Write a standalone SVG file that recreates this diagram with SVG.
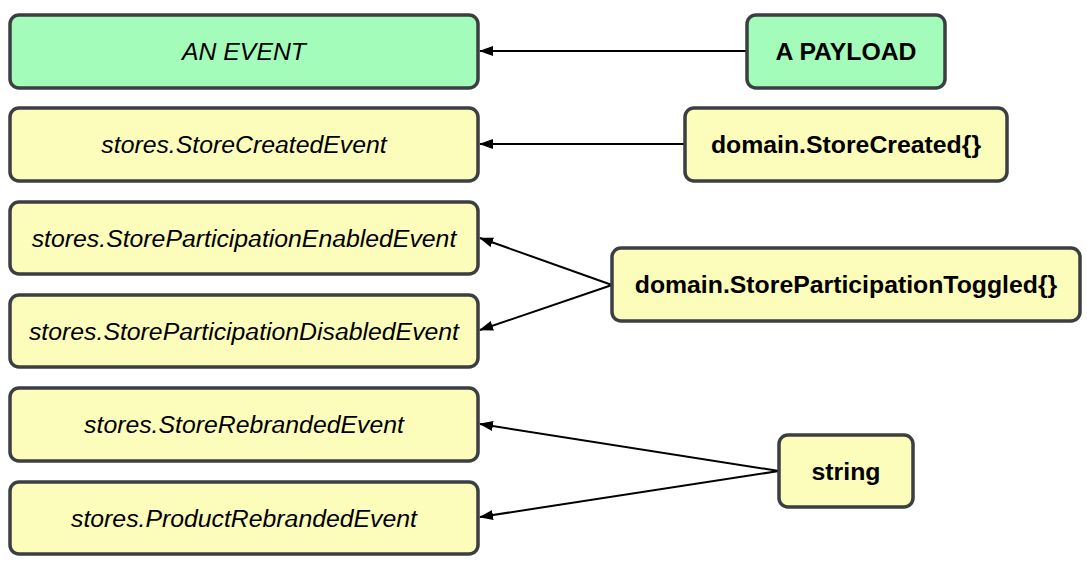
<svg xmlns="http://www.w3.org/2000/svg" width="1087" height="569" viewBox="0 0 1087 569">
<defs>
<style>
.box{stroke:#3b3e43;stroke-width:3.5}
.g{fill:#a3fcba}
.y{fill:#fcfcbb}
.ev{font-family:"Liberation Sans",Arial,sans-serif;font-size:24.8px;font-style:italic;fill:#000;text-anchor:middle}
.pl{font-family:"Liberation Sans",Arial,sans-serif;font-size:24.8px;font-weight:bold;fill:#000;text-anchor:middle}
.c{stroke:#000;stroke-width:2;fill:none;marker-end:url(#ah)}
</style>
<marker id="ah" viewBox="0 0 14 10" refX="13" refY="5" markerWidth="14" markerHeight="10" markerUnits="userSpaceOnUse" orient="auto">
<path d="M0,0 L14,5 L0,10 z" fill="#000"/>
</marker>
</defs>
<rect width="1087" height="569" fill="#fff"/>
<g id="connectors">
<line class="c" x1="747" y1="51" x2="480" y2="51"/>
<line class="c" x1="685" y1="144" x2="480" y2="144"/>
<line class="c" x1="612" y1="285" x2="480" y2="238"/>
<line class="c" x1="612" y1="285" x2="480" y2="330"/>
<line class="c" x1="779" y1="471" x2="480" y2="424"/>
<line class="c" x1="779" y1="471" x2="480" y2="517"/>
</g>
<g id="an-event"><rect class="box g" x="10" y="15" width="468" height="73" rx="9"/><text class="ev" x="244" y="60">AN EVENT</text></g>
<g id="store-created-event"><rect class="box y" x="10" y="108" width="468" height="73" rx="9"/><text class="ev" x="244" y="153">stores.StoreCreatedEvent</text></g>
<g id="participation-enabled"><rect class="box y" x="10" y="202" width="468" height="72" rx="9"/><text class="ev" x="244" y="247">stores.StoreParticipationEnabledEvent</text></g>
<g id="participation-disabled"><rect class="box y" x="10" y="295" width="468" height="72" rx="9"/><text class="ev" x="244" y="340">stores.StoreParticipationDisabledEvent</text></g>
<g id="store-rebranded"><rect class="box y" x="10" y="388" width="468" height="73" rx="9"/><text class="ev" x="244" y="433">stores.StoreRebrandedEvent</text></g>
<g id="product-rebranded"><rect class="box y" x="10" y="482" width="468" height="72" rx="9"/><text class="ev" x="244" y="527">stores.ProductRebrandedEvent</text></g>
<g id="a-payload"><rect class="box g" x="747" y="15" width="198" height="73" rx="9"/><text class="pl" x="846" y="60">A PAYLOAD</text></g>
<g id="domain-store-created"><rect class="box y" x="685" y="108" width="322" height="73" rx="9"/><text class="pl" x="846" y="153">domain.StoreCreated{}</text></g>
<g id="domain-participation-toggled"><rect class="box y" x="612" y="248" width="468" height="73" rx="9"/><text class="pl" x="846" y="293">domain.StoreParticipationToggled{}</text></g>
<g id="string"><rect class="box y" x="779" y="435" width="134" height="72" rx="9"/><text class="pl" x="846" y="480">string</text></g>
</svg>
